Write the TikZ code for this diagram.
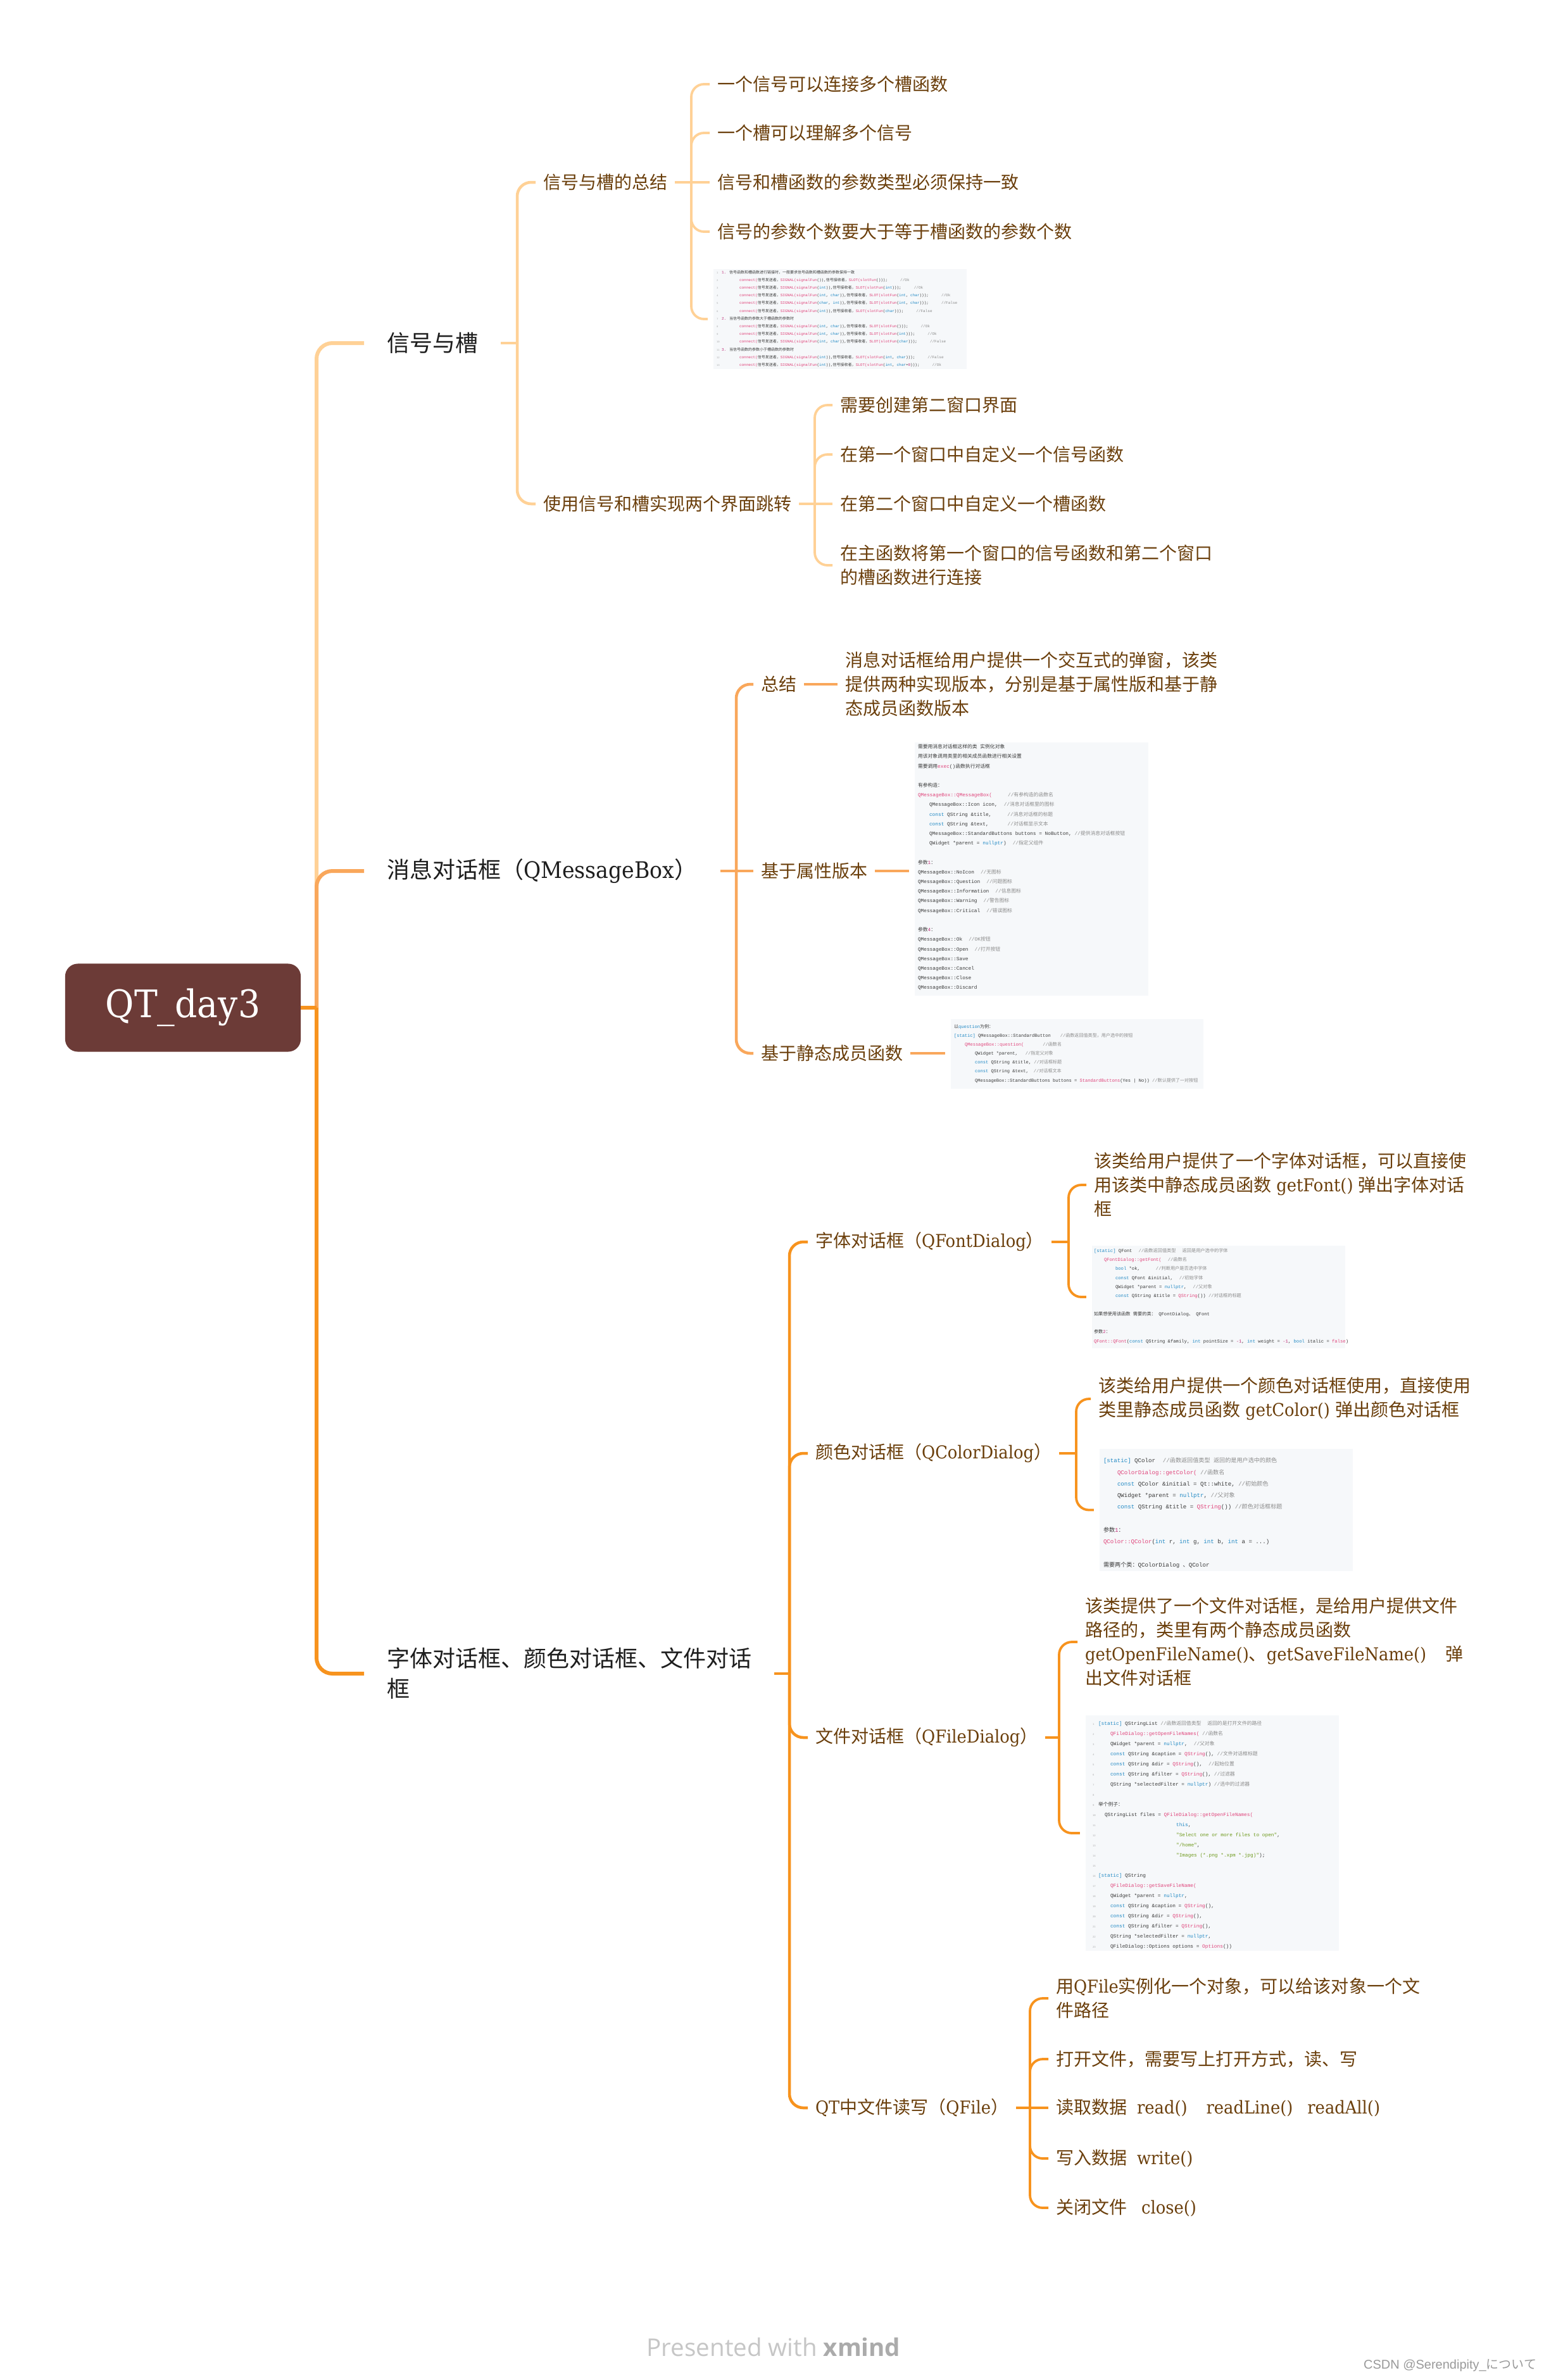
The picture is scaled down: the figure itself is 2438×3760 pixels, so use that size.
\documentclass[tikz,border=0pt]{standalone}
\usepackage{fontspec}
\setmainfont{DejaVu Serif}[FakeStretch=0.92]
\newfontfamily\cjk{Noto Sans CJK SC}
\newfontfamily\codefont{Liberation Mono}
\newfontfamily\footfont{Open Sans}
\newfontfamily\wmfont{Liberation Sans}
\def\curlat{\rmfamily}
% automatic switching to the CJK font
\XeTeXinterchartokenstate=1
\newXeTeXintercharclass\CJKcls
\newcount\cjkc
\newcommand\setcjkrange[2]{\cjkc=#1\relax\loop\XeTeXcharclass\cjkc=\CJKcls\relax\ifnum\cjkc<#2\relax\advance\cjkc by 1\relax\repeat}
\setcjkrange{"3000}{"30FF}
\setcjkrange{"4E00}{"9FFF}
\setcjkrange{"FF00}{"FFEF}
\XeTeXinterchartoks 0 \CJKcls = {\cjk}
\XeTeXinterchartoks 4095 \CJKcls = {\cjk}
\XeTeXinterchartoks \CJKcls 0 = {\curlat}
\XeTeXinterchartoks \CJKcls 4095 = {\curlat}

\definecolor{rootc}{HTML}{6C3B37}
\definecolor{brA}{HTML}{FFD196}
\definecolor{brB}{HTML}{F9A75B}
\definecolor{brC}{HTML}{F7931E}
\definecolor{ltext}{HTML}{1E1E1E}
\definecolor{stext}{HTML}{6B3F0C}
\definecolor{codebg}{HTML}{F6F8FA}
\definecolor{ccode}{HTML}{3A3A3A}
\definecolor{cfn}{HTML}{E0457B}
\definecolor{ckw}{HTML}{2189C4}
\definecolor{ccm}{HTML}{8C8C8C}
\definecolor{cst}{HTML}{6F9A1E}
\definecolor{cnu}{HTML}{C0307A}
\definecolor{clnum}{HTML}{A8A8A8}
\definecolor{footc}{HTML}{C6C6C6}
\definecolor{footd}{HTML}{ABABAB}
\definecolor{wmc}{HTML}{9A9A9A}

\newcommand\cFn[1]{{\color{cfn}#1}}
\newcommand\cKw[1]{{\color{ckw}#1}}
\newcommand\cCm[1]{{\color{ccm}#1}}
\newcommand\cSt[1]{{\color{cst}#1}}
\newcommand\cNu[1]{{\color{cnu}#1}}
\newlength\lnw
\newcommand\LN[1]{\makebox[\lnw][l]{\fontsize{0.04cm}{0.05cm}\selectfont\color{clnum}#1}}
\newcommand\codeA{\def\curlat{\codefont}\codefont\fontsize{0.06cm}{0.122cm}\selectfont\setlength\lnw{0.08cm}}
\newcommand\codeB{\def\curlat{\codefont}\codefont\fontsize{0.078cm}{0.152cm}\selectfont}
\newcommand\codeC{\def\curlat{\codefont}\codefont\fontsize{0.0707cm}{0.14cm}\selectfont}
\newcommand\codeD{\def\curlat{\codefont}\codefont\fontsize{0.072cm}{0.143cm}\selectfont}
\newcommand\codeE{\def\curlat{\codefont}\codefont\fontsize{0.091cm}{0.183cm}\selectfont}
\newcommand\codeF{\def\curlat{\codefont}\codefont\fontsize{0.078cm}{0.16cm}\selectfont\setlength\lnw{0.09cm}}

\tikzset{
  root/.style={rectangle, rounded corners=0.2cm, fill=rootc, text=white, minimum width=3.72cm, minimum height=1.39cm, inner sep=0pt, outer sep=0pt, font=\fontsize{0.6cm}{0.64cm}\selectfont},
  lone/.style={anchor=west, align=left, inner xsep=0.36cm, inner ysep=0pt, outer sep=0pt, text=ltext, font=\fontsize{0.36cm}{0.48cm}\selectfont},
  ltwo/.style={anchor=west, align=left, inner xsep=0.12cm, inner ysep=0pt, outer sep=0pt, text=stext, font=\fontsize{0.28cm}{0.38cm}\selectfont},
  img/.style={rectangle, fill=codebg, inner sep=0pt, outer ysep=0pt, outer xsep=0.09cm},
  codetxt/.style={anchor=north west, align=left, inner sep=0pt, outer sep=0pt, text=ccode},
  wone/.style={line width=0.06cm, rounded corners=0.25cm},
  wtwo/.style={line width=0.045cm, rounded corners=0.22cm},
  wthree/.style={line width=0.038cm, rounded corners=0.2cm}
}

\begin{document}
\begin{tikzpicture}[x=0.01cm,y=-0.01cm]
\fill[white] (0,0) rectangle (2438,3760);
\useasboundingbox (0,0) rectangle (2438,3760);

% ---------- nodes ----------
\node[root] (root) at (289,1592) {QT\_day3};

\node[lone] (n1) at (575,542) {信号与槽};
\node[lone] (n2) at (575,1376) {消息对话框（QMessageBox）};
\node[lone] (n3) at (575,2644) {字体对话框、颜色对话框、文件对话\\框};

% branch 1
\node[ltwo] (n11) at (846,288) {信号与槽的总结};
\node[ltwo] (n12) at (846,796) {使用信号和槽实现两个界面跳转};
\node[ltwo] (a1) at (1121,133) {一个信号可以连接多个槽函数};
\node[ltwo] (a2) at (1121,210) {一个槽可以理解多个信号};
\node[ltwo] (a3) at (1121,288) {信号和槽函数的参数类型必须保持一致};
\node[ltwo] (a4) at (1121,366) {信号的参数个数要大于等于槽函数的参数个数};
\node[img, minimum width=4cm, minimum height=1.58cm] (img1) at (1327,504) {};
\node[codetxt, font=\codeA] (t1) at (1132,427) {%
\LN{1}\cNu{1.} 信号函数和槽函数进行链接时，一般要求信号函数和槽函数的参数保持一致\\
\LN{2}\hspace*{0.28cm}\cFn{connect(}信号发送者，\cFn{SIGNAL(signalFun}()),信号接收者，\cFn{SLOT(slotFun}()));\hspace{0.2cm}\cCm{//Ok}\\
\LN{3}\hspace*{0.28cm}\cFn{connect(}信号发送者，\cFn{SIGNAL(signalFun}(\cKw{int})),信号接收者，\cFn{SLOT(slotFun}(\cKw{int})));\hspace{0.2cm}\cCm{//Ok}\\
\LN{4}\hspace*{0.28cm}\cFn{connect(}信号发送者，\cFn{SIGNAL(signalFun}(\cKw{int}, \cKw{char})),信号接收者，\cFn{SLOT(slotFun}(\cKw{int}, \cKw{char})));\hspace{0.2cm}\cCm{//Ok}\\
\LN{5}\hspace*{0.28cm}\cFn{connect(}信号发送者，\cFn{SIGNAL(signalFun}(\cKw{char}, \cKw{int})),信号接收者，\cFn{SLOT(slotFun}(\cKw{int}, \cKw{char})));\hspace{0.2cm}\cCm{//False}\\
\LN{6}\hspace*{0.28cm}\cFn{connect(}信号发送者，\cFn{SIGNAL(signalFun}(\cKw{int})),信号接收者，\cFn{SLOT(slotFun}(\cKw{char})));\hspace{0.2cm}\cCm{//False}\\
\LN{7}\cNu{2.} 当信号函数的参数大于槽函数的参数时\\
\LN{8}\hspace*{0.28cm}\cFn{connect(}信号发送者，\cFn{SIGNAL(signalFun}(\cKw{int}, \cKw{char})),信号接收者，\cFn{SLOT(slotFun}()));\hspace{0.2cm}\cCm{//Ok}\\
\LN{9}\hspace*{0.28cm}\cFn{connect(}信号发送者，\cFn{SIGNAL(signalFun}(\cKw{int}, \cKw{char})),信号接收者，\cFn{SLOT(slotFun}(\cKw{int})));\hspace{0.2cm}\cCm{//Ok}\\
\LN{10}\hspace*{0.28cm}\cFn{connect(}信号发送者，\cFn{SIGNAL(signalFun}(\cKw{int}, \cKw{char})),信号接收者，\cFn{SLOT(slotFun}(\cKw{char})));\hspace{0.2cm}\cCm{//False}\\
\LN{11}\cNu{3.} 当信号函数的参数小于槽函数的参数时\\
\LN{12}\hspace*{0.28cm}\cFn{connect(}信号发送者，\cFn{SIGNAL(signalFun}(\cKw{int})),信号接收者，\cFn{SLOT(slotFun}(\cKw{int}, \cKw{char})));\hspace{0.2cm}\cCm{//False}\\
\LN{13}\hspace*{0.28cm}\cFn{connect(}信号发送者，\cFn{SIGNAL(signalFun}(\cKw{int})),信号接收者，\cFn{SLOT(slotFun}(\cKw{int}, \cKw{char}=\cNu{0})));\hspace{0.2cm}\cCm{//Ok}};

\node[ltwo] (b1) at (1315,640) {需要创建第二窗口界面};
\node[ltwo] (b2) at (1315,718) {在第一个窗口中自定义一个信号函数};
\node[ltwo] (b3) at (1315,796) {在第二个窗口中自定义一个槽函数};
\node[ltwo] (b4) at (1315,893) {在主函数将第一个窗口的信号函数和第二个窗口\\的槽函数进行连接};

% branch 2
\node[ltwo] (c1) at (1190,1081) {总结};
\node[ltwo] (c11) at (1323,1081) {消息对话框给用户提供一个交互式的弹窗，该类\\提供两种实现版本，分别是基于属性版和基于静\\态成员函数版本};
\node[ltwo] (c2) at (1190,1376) {基于属性版本};
\node[ltwo] (c3) at (1190,1664) {基于静态成员函数};
\node[img, minimum width=3.69cm, minimum height=4cm] (img2) at (1629.5,1373) {};
\node[codetxt, font=\codeB] (t2) at (1450,1176) {%
需要用消息对话框这样的类 实例化对象\\
用该对象调用类里的相关成员函数进行相关设置\\
需要调用\cFn{exec}()函数执行对话框\\
~\\
有参构造：\\
\cFn{QMessageBox::QMessageBox(}\hspace{0.25cm}\cCm{//有参构造的函数名}\\
\hspace*{0.18cm}QMessageBox::Icon icon,\hspace{0.1cm}\cCm{//消息对话框里的图标}\\
\hspace*{0.18cm}\cKw{const} QString \&title,\hspace{0.25cm}\cCm{//消息对话框的标题}\\
\hspace*{0.18cm}\cKw{const} QString \&text,\hspace{0.3cm}\cCm{//对话框显示文本}\\
\hspace*{0.18cm}QMessageBox::StandardButtons buttons = NoButton, \cCm{//提供消息对话框按钮}\\
\hspace*{0.18cm}QWidget *parent = \cKw{nullptr})\hspace{0.1cm}\cCm{//指定父组件}\\
~\\
参数\cNu{1}：\\
QMessageBox::NoIcon\hspace{0.1cm}\cCm{//无图标}\\
QMessageBox::Question\hspace{0.1cm}\cCm{//问题图标}\\
QMessageBox::Information\hspace{0.1cm}\cCm{//信息图标}\\
QMessageBox::Warning\hspace{0.1cm}\cCm{//警告图标}\\
QMessageBox::Critical\hspace{0.1cm}\cCm{//错误图标}\\
~\\
参数\cNu{4}：\\
QMessageBox::Ok\hspace{0.1cm}\cCm{//OK按钮}\\
QMessageBox::Open\hspace{0.1cm}\cCm{//打开按钮}\\
QMessageBox::Save\\
QMessageBox::Cancel\\
QMessageBox::Close\\
QMessageBox::Discard};
\node[img, minimum width=3.99cm, minimum height=1.1cm] (img3) at (1701.5,1665) {};
\node[codetxt, font=\codeC] (t3) at (1507,1619) {%
以\cKw{question}为例：\\
\cKw{[static]} QMessageBox::StandardButton\hspace{0.15cm}\cCm{//函数返回值类型，用户选中的按钮}\\
\hspace*{0.17cm}\cFn{QMessageBox::question(}\hspace{0.3cm}\cCm{//函数名}\\
\hspace*{0.33cm}QWidget *parent,\hspace{0.12cm}\cCm{//指定父对象}\\
\hspace*{0.33cm}\cKw{const} QString \&title, \cCm{//对话框标题}\\
\hspace*{0.33cm}\cKw{const} QString \&text,\hspace{0.08cm}\cCm{//对话框文本}\\
\hspace*{0.33cm}QMessageBox::StandardButtons buttons = \cFn{StandardButtons}(Yes | No)) \cCm{//默认提供了一对按钮}};

% branch 3
\node[ltwo] (d1) at (1276,1962) {字体对话框（QFontDialog）};
\node[ltwo] (d2) at (1276,2296) {颜色对话框（QColorDialog）};
\node[ltwo] (d3) at (1276,2745) {文件对话框（QFileDialog）};
\node[ltwo] (d4) at (1276,3330) {QT中文件读写（QFile）};

\node[ltwo] (e1) at (1716,1872) {该类给用户提供了一个字体对话框，可以直接使\\用该类中静态成员函数 getFont() 弹出字体对话\\框};
\node[img, minimum width=4cm, minimum height=1.62cm] (img4) at (1925,2049) {};
\node[codetxt, font=\codeD] (t4) at (1728,1972) {%
\cKw{[static]} QFont\hspace{0.1cm}\cCm{//函数返回值类型\hspace{0.1cm}返回是用户选中的字体}\\
\hspace*{0.16cm}\cFn{QFontDialog::getFont(}\hspace{0.1cm}\cCm{//函数名}\\
\hspace*{0.34cm}\cKw{bool} *ok,\hspace{0.25cm}\cCm{//判断用户是否选中字体}\\
\hspace*{0.34cm}\cKw{const} QFont \&initial,\hspace{0.1cm}\cCm{//初始字体}\\
\hspace*{0.34cm}QWidget *parent = \cKw{nullptr},\hspace{0.1cm}\cCm{//父对象}\\
\hspace*{0.34cm}\cKw{const} QString \&title = \cFn{QString}()) \cCm{//对话框的标题}\\
~\\
如果想使用该函数 需要的类： QFontDialog、 QFont\\
~\\
参数\cNu{2}：\\
\cFn{QFont::QFont}(\cKw{const} QString \&family, \cKw{int} pointSize = \cNu{-1}, \cKw{int} weight = \cNu{-1}, \cKw{bool} italic = \cFn{false})};

\node[ltwo] (f1) at (1723,2210) {该类给用户提供一个颜色对话框使用，直接使用\\类里静态成员函数 getColor() 弹出颜色对话框};
\node[img, minimum width=4cm, minimum height=1.93cm] (img5) at (1937,2385.5) {};
\node[codetxt, font=\codeE] (t5) at (1743,2303) {%
\cKw{[static]} QColor\hspace{0.12cm}\cCm{//函数返回值类型 返回的是用户选中的颜色}\\
\hspace*{0.22cm}\cFn{QColorDialog::getColor(} \cCm{//函数名}\\
\hspace*{0.22cm}\cKw{const} QColor \&initial = Qt::white, \cCm{//初始颜色}\\
\hspace*{0.22cm}QWidget *parent = \cKw{nullptr}, \cCm{//父对象}\\
\hspace*{0.22cm}\cKw{const} QString \&title = \cFn{QString}()) \cCm{//颜色对话框标题}\\
~\\
参数\cNu{1}：\\
\cFn{QColor::QColor}(\cKw{int} r, \cKw{int} g, \cKw{int} b, \cKw{int} a = ...)\\
~\\
需要两个类：QColorDialog 、QColor};

\node[ltwo] (g1) at (1702,2594) {该类提供了一个文件对话框，是给用户提供文件\\路径的，类里有两个静态成员函数\\getOpenFileName()、getSaveFileName()\hspace{0.3cm}弹\\出文件对话框};
\node[img, minimum width=4cm, minimum height=3.72cm] (img6) at (1915,2896) {};
\node[codetxt, font=\codeF] (t6) at (1726,2719) {%
\LN{1}\cKw{[static]} QStringList \cCm{//函数返回值类型\hspace{0.1cm}返回的是打开文件的路径}\\
\LN{2}\hspace*{0.19cm}\cFn{QFileDialog::getOpenFileNames(} \cCm{//函数名}\\
\LN{3}\hspace*{0.19cm}QWidget *parent = \cKw{nullptr},\hspace{0.1cm}\cCm{//父对象}\\
\LN{4}\hspace*{0.19cm}\cKw{const} QString \&caption = \cFn{QString}(), \cCm{//文件对话框标题}\\
\LN{5}\hspace*{0.19cm}\cKw{const} QString \&dir = \cFn{QString}(),\hspace{0.1cm}\cCm{//起始位置}\\
\LN{6}\hspace*{0.19cm}\cKw{const} QString \&filter = \cFn{QString}(), \cCm{//过滤器}\\
\LN{7}\hspace*{0.19cm}QString *selectedFilter = \cKw{nullptr}) \cCm{//选中的过滤器}\\
\LN{8}\\
\LN{9}举个例子：\\
\LN{10}\hspace*{0.1cm}QStringList files = \cFn{QFileDialog::getOpenFileNames(}\\
\LN{11}\hspace*{1.23cm}\cKw{this},\\
\LN{12}\hspace*{1.23cm}\cSt{"Select one or more files to open"},\\
\LN{13}\hspace*{1.23cm}\cSt{"/home"},\\
\LN{14}\hspace*{1.23cm}\cSt{"Images (*.png *.xpm *.jpg)"});\\
\LN{15}\\
\LN{16}\cKw{[static]} QString\\
\LN{17}\hspace*{0.19cm}\cFn{QFileDialog::getSaveFileName(}\\
\LN{18}\hspace*{0.19cm}QWidget *parent = \cKw{nullptr},\\
\LN{19}\hspace*{0.19cm}\cKw{const} QString \&caption = \cFn{QString}(),\\
\LN{20}\hspace*{0.19cm}\cKw{const} QString \&dir = \cFn{QString}(),\\
\LN{21}\hspace*{0.19cm}\cKw{const} QString \&filter = \cFn{QString}(),\\
\LN{22}\hspace*{0.19cm}QString *selectedFilter = \cKw{nullptr},\\
\LN{23}\hspace*{0.19cm}QFileDialog::Options options = \cFn{Options}())};

\node[ltwo] (h1) at (1656,3157) {用QFile实例化一个对象，可以给该对象一个文\\件路径};
\node[ltwo] (h2) at (1656,3253) {打开文件，需要写上打开方式，读、写};
\node[ltwo] (h3) at (1656,3330) {读取数据\hspace{0.16cm}read()\hspace{0.3cm}readLine()\hspace{0.23cm}readAll()};
\node[ltwo] (h4) at (1656,3410) {写入数据\hspace{0.16cm}write()};
\node[ltwo] (h5) at (1656,3488) {关闭文件\hspace{0.23cm}close()};

% footer
\node[font=\footfont\fontsize{0.385cm}{0.42cm}\selectfont, text=footc, inner sep=0pt] (foot) at (1222,3708) {Presented with {\bfseries\color{footd}xmind}};
\node[anchor=east, font=\wmfont\fontsize{0.2cm}{0.24cm}\selectfont, text=wmc, inner sep=0pt] (wm) at (2428,3737) {CSDN @Serendipity\_について};

% ---------- connectors ----------
\coordinate (J0) at (500,1592);
\draw[wone, brA] (J0) |- (n1.west);
\draw[wone, brB] (J0) |- (n2.west);
\draw[wone, brC] (J0) |- (n3.west);
\draw[wone, brC] (root.east) -- (J0);

% branch 1
\coordinate (J1) at (817,542);
\draw[wtwo, brA] (n1.east) -- (J1);
\draw[wtwo, brA] (J1) |- (n11.west);
\draw[wtwo, brA] (J1) |- (n12.west);
\coordinate (J11) at (1092,288);
\draw[wthree, brA] (n11.east) -- (J11);
\draw[wthree, brA] (J11) |- (a1.west);
\draw[wthree, brA] (J11) |- (a2.west);
\draw[wthree, brA] (J11) -- (a3.west);
\draw[wthree, brA] (J11) |- (a4.west);
\draw[wthree, brA] (J11) |- (img1.west);
\coordinate (J12) at (1287,796);
\draw[wthree, brA] (n12.east) -- (J12);
\draw[wthree, brA] (J12) |- (b1.west);
\draw[wthree, brA] (J12) |- (b2.west);
\draw[wthree, brA] (J12) -- (b3.west);
\draw[wthree, brA] (J12) |- (b4.west);

% branch 2
\coordinate (J2) at (1163,1376);
\draw[wtwo, brB] (n2.east) -- (J2);
\draw[wtwo, brB] (J2) |- (c1.west);
\draw[wtwo, brB] (J2) -- (c2.west);
\draw[wtwo, brB] (J2) |- (c3.west);
\draw[wthree, brB] (c1.east) -- (c11.west);
\draw[wthree, brB] (c2.east) -- (c2.east -| img2.west);
\draw[wthree, brB] (c3.east) -- (c3.east -| img3.west);

% branch 3
\coordinate (J3) at (1247,2644);
\draw[wtwo, brC] (n3.east) -- (J3);
\draw[wtwo, brC] (J3) |- (d1.west);
\draw[wtwo, brC] (J3) |- (d2.west);
\draw[wtwo, brC] (J3) |- (d3.west);
\draw[wtwo, brC] (J3) |- (d4.west);
\coordinate (J31) at (1688,1962);
\draw[wthree, brC] (d1.east) -- (J31);
\draw[wthree, brC] (J31) |- (e1.west);
\draw[wthree, brC] (J31) |- (img4.west);
\coordinate (J32) at (1700,2296);
\draw[wthree, brC] (d2.east) -- (J32);
\draw[wthree, brC] (J32) |- (f1.west);
\draw[wthree, brC] (J32) |- (img5.west);
\coordinate (J33) at (1673,2745);
\draw[wthree, brC] (d3.east) -- (J33);
\draw[wthree, brC] (J33) |- (g1.west);
\draw[wthree, brC] (J33) |- (img6.west);
\coordinate (J34) at (1627,3330);
\draw[wthree, brC] (d4.east) -- (J34);
\draw[wthree, brC] (J34) |- (h1.west);
\draw[wthree, brC] (J34) |- (h2.west);
\draw[wthree, brC] (J34) -- (h3.west);
\draw[wthree, brC] (J34) |- (h4.west);
\draw[wthree, brC] (J34) |- (h5.west);
\end{tikzpicture}
\end{document}
